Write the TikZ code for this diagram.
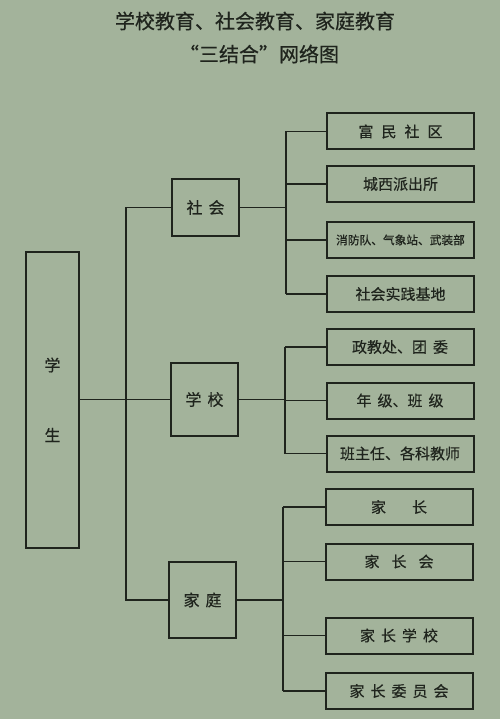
\documentclass[tikz,border=0pt]{standalone}
\usepackage{fontspec}
\setmainfont{Noto Sans CJK SC}[UprightFeatures={FakeBold=0.5}]
\usepackage{xcolor}
\usetikzlibrary{calc}

\definecolor{paper}{HTML}{A3B39B}
\definecolor{ink}{HTML}{1F241D}

\begin{document}
\begin{tikzpicture}[x=1pt,y=-1pt,
    box/.style={draw=ink, line width=2pt, inner sep=0pt, text=ink},
    midbox/.style={box, minimum width=67pt, font=\fontsize{16pt}{19pt}\selectfont},
    leaf/.style={box, minimum width=147pt, minimum height=36pt,
        font=\fontsize{15pt}{18pt}\selectfont},
    wire/.style={draw=ink, line width=1.3pt}]

    % -- Paper and frame --
    \fill[paper] (0,0) rectangle (500,719);
    \useasboundingbox (0,0) rectangle (500,719);

    % -- Title --
    \node[text=ink, font=\fontsize{20pt}{24pt}\selectfont] (title1) at (255,21)
        {学校教育、社会教育、家庭教育};
    \node[text=ink, font=\fontsize{20pt}{24pt}\selectfont] (title2) at (259,54)
        {“三结合”网络图};

    % -- Student on the left --
    \node[box, minimum width=53pt, minimum height=296pt,
          font=\fontsize{16pt}{19pt}\selectfont] (stu) at (52.5,399.5) {};
    \node[text=ink, font=\fontsize{16pt}{19pt}\selectfont] (stu1) at (52.5,365) {学};
    \node[text=ink, font=\fontsize{16pt}{19pt}\selectfont] (stu2) at (52.5,435) {生};

    % -- Society, school, family in the middle --
    \node[midbox, minimum height=57pt] (soc) at (205.5,207.5) {社\hspace{6pt}会};
    \node[midbox, minimum height=73pt] (sch) at (204.5,399.5) {学\hspace{6pt}校};
    \node[midbox, minimum height=76pt] (fam) at (202.5,600) {家\hspace{6pt}庭};

    % -- Leaves of society --
    \node[leaf] (s1) at (400.5,131.5) {富\hspace{8pt}民\hspace{8pt}社\hspace{8pt}区};
    \node[leaf] (s2) at (400.5,184) {城西派出所};
    \node[leaf, font=\fontsize{11.7pt}{14pt}\selectfont] (s3) at (400.5,240)
        {消防队、气象站、武装部};
    \node[leaf] (s4) at (400.5,294) {社会实践基地};

    % -- Leaves of school --
    \node[leaf] (x1) at (400,347) {政教处、团\hspace{6pt}委};
    \node[leaf] (x2) at (400,400.5) {年\hspace{6pt}级、班\hspace{6pt}级};
    \node[leaf] (x3) at (400,453.5) {班主任、各科教师};

    % -- Leaves of family --
    \node[leaf] (f1) at (399,507) {家\hspace{26pt}长};
    \node[leaf] (f2) at (399,561.5) {家\hspace{12pt}长\hspace{12pt}会};
    \node[leaf] (f3) at (399,635.5) {家\hspace{6pt}长\hspace{6pt}学\hspace{6pt}校};
    \node[leaf] (f4) at (399,691) {家\hspace{6pt}长\hspace{6pt}委\hspace{6pt}员\hspace{6pt}会};

    % -- Bus lines --
    \coordinate (trunk) at (126,0);
    \coordinate (sbus) at (286,0);
    \coordinate (xbus) at (285,0);
    \coordinate (fbus) at (283,0);

    % student to the three groups
    \draw[wire] (stu.east) -- (sch.west);
    \draw[wire] (soc.west) -- (soc.west -| trunk) -- (fam.west -| trunk) -- (fam.west);

    % society to its leaves
    \draw[wire] (soc.east) -- (soc.east -| sbus);
    \draw[wire] (s1.west -| sbus) -- (s4.west -| sbus);
    \foreach \n in {s1,s2,s3,s4}
        \draw[wire] (\n.west -| sbus) -- (\n.west);

    % school to its leaves
    \draw[wire] (sch.east) -- (sch.east -| xbus);
    \draw[wire] (x1.west -| xbus) -- (x3.west -| xbus);
    \foreach \n in {x1,x2,x3}
        \draw[wire] (\n.west -| xbus) -- (\n.west);

    % family to its leaves
    \draw[wire] (fam.east) -- (fam.east -| fbus);
    \draw[wire] (f1.west -| fbus) -- (f4.west -| fbus);
    \foreach \n in {f1,f2,f3,f4}
        \draw[wire] (\n.west -| fbus) -- (\n.west);

\end{tikzpicture}
\end{document}
